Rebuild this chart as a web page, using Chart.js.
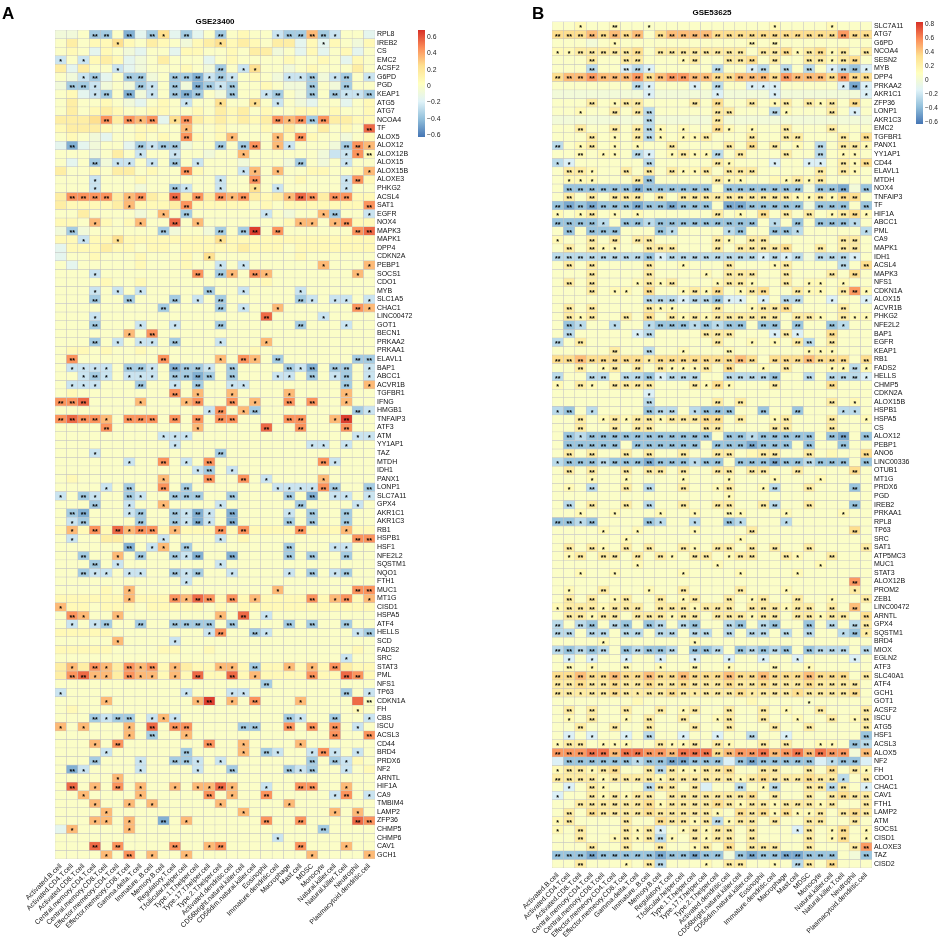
<!DOCTYPE html>
<html>
<head>
<meta charset="utf-8">
<script src="https://cdn.jsdelivr.net/npm/chart.js@4.4.1/dist/chart.umd.min.js"></script>
<style>
  html, body { margin: 0; padding: 0; background: #fff; }
  #wrap { position: relative; width: 941px; height: 941px; overflow: hidden; }
  canvas { position: absolute; top: 0; }
</style>
</head>
<body>
<div id="wrap">
  <canvas id="chartA" width="470" height="941" style="left:0px"></canvas>
  <canvas id="chartB" width="471" height="941" style="left:470px"></canvas>
</div>
<script>
// ---- data ----
const cellTypes = [
  'Activated.B.cell', 'Activated.CD4.T.cell', 'Activated.CD8.T.cell', 'Central.memory.CD4.T.cell',
  'Central.memory.CD8.T.cell', 'Effector.memeory.CD4.T.cell', 'Effector.memeory.CD8.T.cell',
  'Gamma.delta.T.cell', 'Immature..B.cell', 'Memory.B.cell', 'Regulatory.T.cell',
  'T.follicular.helper.cell', 'Type.1.T.helper.cell', 'Type.17.T.helper.cell', 'Type.2.T.helper.cell',
  'Activated.dendritic.cell', 'CD56bright.natural.killer.cell', 'CD56dim.natural.killer.cell',
  'Eosinophil', 'Immature.dendritic.cell', 'Macrophage', 'Mast.cell', 'MDSC', 'Monocyte',
  'Natural.killer.cell', 'Natural.killer.T.cell', 'Neutrophil', 'Plasmacytoid.dendritic.cell'
];

// one letter per cell = correlation level
const levelCodes  = 'ABCDEFGHIJKLMN';
const levelValues = [-0.55, -0.45, -0.35, -0.25, -0.15, -0.07, 0, 0.07, 0.15, 0.25, 0.35, 0.45, 0.55, 0.65];

const genesA = ['RPL8','IREB2','CS','EMC2','ACSF2','G6PD','PGD','KEAP1','ATG5','ATG7','NCOA4','TF','ALOX5',
  'ALOX12','ALOX12B','ALOX15','ALOX15B','ALOXE3','PHKG2','ACSL4','SAT1','EGFR','NOX4','MAPK3','MAPK1','DPP4',
  'CDKN2A','PEBP1','SOCS1','CDO1','MYB','SLC1A5','CHAC1','LINC00472','GOT1','BECN1','PRKAA2','PRKAA1','ELAVL1',
  'BAP1','ABCC1','ACVR1B','TGFBR1','IFNG','HMGB1','TNFAIP3','ATF3','ATM','YY1AP1','TAZ','MTDH','IDH1','PANX1',
  'LONP1','SLC7A11','GPX4','AKR1C1','AKR1C3','RB1','HSPB1','HSF1','NFE2L2','SQSTM1','NQO1','FTH1','MUC1','MT1G',
  'CISD1','HSPA5','ATF4','HELLS','SCD','FADS2','SRC','STAT3','PML','NFS1','TP63','CDKN1A','FH','CBS','ISCU',
  'ACSL3','CD44','BRD4','PRDX6','NF2','ARNTL','HIF1A','CA9','TMBIM4','LAMP2','ZFP36','CHMP5','CHMP6','CAV1','GCH1'];

const corrA = [
  'FFGCCGBECJECEGCGHGGDCCKCDGGE','GIGHHJHGIHGFHIJHIHGIIEHEHGFH','GHGEHGFEGGEHHGGHGIIFGEHEGHEG',
  'DGDHIHEFGIGGGEGHGGGGHGGHGEHG','IEIGGDEFGGGHGFCGDJGGFGHGGGIG','GFDCEGCCFGCCBDCDGHGFDDCFDCGD',
  'FCCDFGFCDGCFBCDCGGHGFFCGFCGG','GHEDCGBFDGCBCGFCGGDCGFCGCDDC','GIGGHGFEGHGDGGJGGJGDGFEGGEGH',
  'GIGHIHGGHHGGHGIHIGHGGHHGHGGH','IIIJLILKLEJLIHIHIHILKLCLIIHH','HIIIHGGHHGGKGGHGGGHGIGGIGHGM',
  'GHGFEGGHGHGLHGHKGGGKHLHGGFGH','EBEFGGECDCCFGGCGCLGKDGGGFCLK','GGGFGIGDGGDGGFGGKGGGGGGFDDLH',
  'GEGCFDDGDGCGDGGGFGGGFCGFGDGG','IGGHGIIGHGGLHGGGDKGKGGHHGGHK','GGGDGGGHGGGGGGDGGLGGGHGGGDLH',
  'GGGDGGGFGGCDGGDGGJGDGGGGGDGG','ILLLLIKLIHMILILKLIHIKMLILLHH','IHHHHIKHHHILHHHHHGHGHHHHHHHL',
  'GGIGGGGFGKGCGGGGGGDGFGGKCGGD','HHGKHGHKGGMGKGGGGGGGHKKGKLHH','FCFGGGGGGCFGGFCGCNGLGGGGGGLM',
  'HHDHHJHHHHHHHHJHHHHHHHHHHHHH','EHHHIHHGHHGHHHHHIHHHGHHHHHHH','EGGHGGGHGGGHGJGGGGGGGHGGGGGG',
  'GEGGGGGHGGGHGGDGDGGGGGGKGGGK','GGGDGGGGGGGGLGCKGLKGGGGGGGKG','GGGGHGGHGGGGGGGGGGHGGGGGGGGG',
  'GGGDGDGDGGGGGCGGDGGGGDGGGGGG','GGGCGGCGGGCGDGCGGGGGGCDGDDGD','GGGGGGGGGCGGGGCGDGGKGGGGGGLK',
  'GGGDGGGGGGGGGGGGGGMGGGGDGGGG','GGGCGGGDGGDGGGCGGGGGGCGGGDGG','GGGGGGKGLGGGGGGGGGGGGGGGGGGG',
  'GGGCGDGDDGCGGGDGGGKGGGGGGGGG','GHHGHGGHGGGGGGGGGHGGGGGGGGGG','GLGGGGGGGLGGGGKGLKGCGGGGGGCC',
  'GDDDDGCCDGBCCDGCGGGGCDBGCCGD','GGDCDGDDDGCCBCGCGGGDDGCGDCGD','GDDDGGGCGGDGCGGDDGGGGGGGGCGK',
  'GHGGGGGGGGLGKGGKGGGGKGGGGKGG','LLMGGGGKGGGKLGGLGKGGLGLGGKGG','GGGGGGGGGGGGGDLGKCGGGGGGGGCD',
  'LMLLKGLLLGLGLGLLGGGGLLGGKNGG','GGGGLGGGGGGGKGGGGGMGGLGGGLGG','GGGGGGGGGDDDGGGGGGGGGGGGGGDD',
  'GGGGGGGGGGDGGGGGGGGGGGDDGDGG','GGGDGGGGGGGGGGCGGGGGGGGGGGGG','GGGGGGDGGLGDGLGGGGGGGGGLDGGG',
  'GGGGGGGGGGGGDCGDGGGGGGGGGGGG','GHGGGGGGGKGGGLGGLGDGGGGKGGGG','GGGGDGCGGLGCGGGGGGGDDDDLCGGC',
  'DGCDGGCDGGCCCGGCGGGGCGBGDDGD','GGGCGGDGGKGGGGDGGGGGGCGGGGDG','GCBGGGDCGGCDBDGBGGGGDGCGGCGG',
  'GDCGGGGCGGCDBDGBGGGGCGCGGCGG','HKHLHMKLLHKHHHLHLHHHHLHHHKHH','GDGGIIGGGDGGGGDGHGGGGGGGGGLL',
  'GGGGGGBGDKGCGGGGGGGGCGGGDDGG','GGCGGKGCGGCDBGGBGGGGCGCGGCGG','GGGCGDGGGGGGGGDGGGGGGGGGGGGG',
  'GGCDDGDDGGCDCGGDGGGGDGCGDCGG','GGGGGGGGGGGDGGGGGGGGGGGGGGGG','GGGGHGKGGGGGGGGGGGGKGGGGGGLL',
  'HHHHHHKHHHLKMLHLHKHHHHLHKLHK','KHHGHHHGHHHHHGHGHHHHHHHHHHHH','GLKGGKGGGGGGGGKGMGDGGGGGGGGG',
  'GDGDCGGCGGCCCCGCGGGGCGCGGCGG','HHHHHGGGGGGGGDLGGCDGGGGGGGDC','GGGGGKGGGGDGGGGGGGGGGGGGGGGG',
  'HHHHHGGGGHHGGHGGGGGGGGGGGGHG','GGGGGGGGGGGGGGGGGGGGGGGGGDGG','IKILKILKLHKIHHKKHCHHKHKHLIHH',
  'ILMKKILKKHKHMHHMHKHHHHLHHMLH','GGGGGGGGGGGGGGGGGGCGGGGGGGGG','DGGGGGGGGGGDGGGDDGGGGGGGGCGD',
  'GGGGKGGGGGGGKNGKGLGGGKGGGGMG','GHGGGGGGGGGGGGGGGGGGGGGGGGHG','GGGCDCCGDKDGGGGGGGGGCDGGCGGD',
  'KGKGGGKGMGLLGGGGCCGGLGLGLGDG','GGGGGGKGCGGKGGGGGGGGGGGGLGGL','GGGKGLGGGGGGGLGGKGGGGKGGGGGG',
  'GGGGDGGGGGGCGGGGKGCDGGDLDGDG','GGGCGGGDGGCCDGDGGGGGGGCGCDHG','GBDGGGGDGGGGDGGCGGGGCDCGGDGH',
  'GGGGGKGGGGGGGGGGGGGGGGGGGGGG','GMGKGLGKGGKGKKMKGGDGGLLGGKGG','GGKGGGGKGGGGGLGKGGLGGGGGDLGD',
  'GGGKGGKGKGGGGGKGGGGGKGGGGGGG','GGGGKGGGGGGGGGGGKGGGGGGGKGKG','GGGKKGKGGBGKGGGGGGLGGLGGGGML',
  'EKGGGGKGGGGGGGGGGGGGGGGCGGGG','GGGGGGGGGGGGGGGGGGGDGGGGGGGG','GGGMGLGGGGLGGKLGGGGGGLGGGKGG',
  'GGGGKGLGKGGKGGGGGGGGGGKGGGGK'
];

// '1' = *, '2' = **, '.' = none ('' = no star in the row)
const starsA = [
  '...22.2.21.2..2....122221...','.....1........1........1....','',
  '1.1.........................','.....1........2.11..........','..12..22..222121....112.12.1',
  '.221...21.2.2212......2..2..','...12.2.1.222..2..12..2.2112','...........1..1..1.1........',
  '','....2.212.12.......21222....','...........1...............2',
  '...........2...1...1.2......','.2.....2122...2.22.11....221','.......1..1.....1........112',
  '...2.11.1.2.1........2...1..','...........2....11.1.......1','...1..........1..2.......12.',
  '...1......21..1..1.1.....1..','.2222.12..2.2.212...122.22..','......1....2...............2',
  '.........1.2......1....12..1','...1...1..2.1........11.12..','.2.......2....2.22.2......22',
  '..1..1........1.............','','.............1..............',
  '..............1.1......1...1','...1........2.21.21.......1.','',
  '...1.1.1.....2..1....1......','...2..2...2.1.2......21.11.1','.........2....2.1..1......21',
  '...1..............2....1....','...2...1..1...2......2...1..','......1.2...................',
  '...2.1.11.2...1...1.........','','.2.......2....1.21.2......22',
  '.1111.221.2221.2....212.22.1','..121.111.2222.2...11.2.12.1','.111...2..1.2..11........2.1',
  '..........2.1..1....1....1..','222....1...12..2.1..2.2..1..','.............12.12........21',
  '22221.222.2.2.22....22..12..','....2.......1.....2..2...2..','.........111..............11',
  '..........1...........11.1..','...1..........2.............','......1..2.1.2.........21...',
  '............12.1............','.........1...2..2.1....1....','....1.2..2.2.......111122..2',
  '1.21..21..222..2....2.2.11.1','...2..1..1....1......2....1.','.22...12..2121.2....1.2..2..',
  '.12....2..2121.2....2.2..2..','.1.2.2122.1...2.2....2...1..','.1.......1....1...........22',
  '......2.11.2........2...11..','..2..1.2..212..2....2.2..2..','...2.1........1.............',
  '..211.11..212..1....1.2.12..','...........1................','......1............1......22',
  '......1...2122.2.1....2.12.1','1...........................','.21..1........1.2.1.........',
  '.1.12..2..2222.2....2.2..2..','.............12..21.......12','.....1....1.................',
  '','.........................1..','.1.21.212.1...11.2..1.1.2...',
  '.2211.211.1.2..2.1....2..22.','..................2.........','1..........1...11........2.1',
  '....1.......12.1.2...1.....2.','..........................1.','...2122.111.........21..2..1',
  '1.1...1.2.22....22..2.2.2.1.','......1.2..1............2..2','...1.2.......2..1....1......',
  '....1......2....1.21..121.1.','...2...1..221.1.......2.21..','.21....1....1..2....212..1..',
  '.....1......................','.2.1.2.1..1.1121..1..22..1..','..1....1.....2.1..2.....12.1',
  '...1..1.1.....1.....1.......','....1...........1.......1.1.','...11.1..2.1......2..2....22',
  '.1....1................2....','...................1........','...2.2....2..12......2...1..',
  '....1.2.1..1..........1....1'
];

const genesB = ['SLC7A11','ATG7','G6PD','NCOA4','SESN2','MYB','DPP4','PRKAA2','AKR1C1','ZFP36','LONP1','AKR1C3',
  'EMC2','TGFBR1','PANX1','YY1AP1','CD44','ELAVL1','MTDH','NOX4','TNFAIP3','TF','HIF1A','ABCC1','PML','CA9',
  'MAPK1','IDH1','ACSL4','MAPK3','NFS1','CDKN1A','ALOX15','ACVR1B','PHKG2','NFE2L2','BAP1','EGFR','KEAP1','RB1',
  'FADS2','HELLS','CHMP5','CDKN2A','ALOX15B','HSPB1','HSPA5','CS','ALOX12','PEBP1','ANO6','LINC00336','OTUB1',
  'MT1G','PRDX6','PGD','IREB2','PRKAA1','RPL8','TP63','SRC','SAT1','ATP5MC3','MUC1','STAT3','ALOX12B','PROM2',
  'ZEB1','LINC00472','ARNTL','GPX4','SQSTM1','BRD4','MIOX','EGLN2','ATF3','SLC40A1','ATF4','GCH1','GOT1','ACSF2',
  'ISCU','ATG5','HSF1','ACSL3','ALOX5','NF2','FH','CDO1','CHAC1','CAV1','FTH1','LAMP2','ATM','SOCS1','CISD1',
  'ALOXE3','TAZ','CISD2'];

const corrB = [
  'HHIHHIHHHHHHHHHHHHHIHHHHIHHH','KKKLKLKLHKLLLLKKKKKKKKKKKMKK','HHHGHIHHHHHHHHHHHIHIHHHHHHHH',
  'IIJJJJJKHJJJJJJJJHJJKIJKIJHJ','HHHJHHJJHHHIJHHJJKHJHHJJIJKH','HHHDHHEDEHHHHHDHHEDHDHDHEDCE',
  'KLLMLLLMKLMMLLKKLLLKMLLLKMKK','HHHHHHHDEHHHEHDHHEEEHHHHHEBE','GGGGGGGGEGGGGGEGGGGEGGGGGGGE',
  'HHHJHIJJHHHHJHKHHJHIJHJIJHKH','HHIHHJHJDHHHHHJJHHHDIHHHJHEH','GGGGGGGGDGGGGGJGGGGGGGGGGGGG',
  'HHJHHJHJDIHIHHKIHIHHJHHHJHHH','HHHJHIHJDIHIIJHHHJHHJJHHHJHK','DHIJHIHIHHJHHHHJHKHJHIHDHJJI',
  'HHIHIIHDEHIJIIDHJHHHJHHDHIIH','DEHHHHHHDHHHHHJIHHHEHHEEHJIK','HJJIHHJHJHJIIJHJJJHHHHHJHJIH',
  'HIIIHHHJCHHHHHJIIHHIIJIJHHHH','HCCCCCCBCCCCCCHCCCCCCCGCCBGC','HJHJHJJJHJHJJJJJJJJJJIIJIKKH',
  'CBCBCCCBCCBCCCHBBCCCCCGCCCHC','IHIJHIHIHHHHHHJHIHKHJHJHIJKI','CCCCDHCCDCCCCCCCCCHDHCHCCCDH',
  'HCHCCCHHHCDHHHHDCHHCCDHHHHHD','IHHJHJHJJHHHHHJIHJJHHHHHHJJH','HJHJIIHHJJJHHHJHJJJJKHHJHJJH',
  'DDDDDDDDCEDDDDDDDDEDEDGDDDEH','HJHJHHHHJHHIHHHJHHHIJHHHHDHK','HHHJHHHHJHHHHIHJJJHHJHHHJHKH',
  'HJHJHHHIJIJHHHIJJIHHJHIIHIHH','HHHJHIIHKHHIJIKHIJKHHJIIHJMI','HHHHHHHHDDDEDDCEEHEHDDHHEHHE',
  'HJHJHHHHJIIHHHJHHIJJKHHHHJHH','HJIJHHJHKHJIJIJJJJJJHJJIHJII','HCDHHDHHDCCCDCDCCHCCHCHHCDHH',
  'HDHHHHHEDHHHHJJJHHHEJEHHKHHH','DHJHHHHHHHHHHHJHHIHIHJDHJHHH','HHHHHJHHDHHIHHHIHHHHHHIIIHHH',
  'KKLKKKKKJKKKKKKKLKHKKKLKKKHK','HHJHIJHJHJIIIJHKHHIHJHHHIIDI','DHHDDHDDCEDDDHHDDDDCHHDHDDDE',
  'IHJIHJJJJHHHJIKIHHHJHHHHKHHH','HHHHHHHHEHHHHHHHHHHHHHHHHHHH','HHHHHHHHDHHHHHJHJHHHHHHHJHIH',
  'DCHDHHHHCDDHDCCCHHCHHCHHHDDH','HHJHIJIJJIJJJKKHJHHIJHHHJHHI','HHJHHJHJJHHHHJJHHHHJJHHHJHHH',
  'HCDCCCCCCCCCCCHCCDCCCCCHCBHC','HCCCCCHCCCCCCHCCCBCCCHCHHCHH','HJHJHHJHJHHJHHJJHIJJHHJHIHHK',
  'DCCCDCCCBCCCDCCHCCCBCCDCCCHC','HJHJHHJHJJHJHHJJHJJHHJHHHHKH','HHHIHHIHHHHIHHHIHHHIHHHIHHHH',
  'HIHDHHJHDHHJHHIJHHIDHHJHHHCH','HHHHHHHHHHHHHHHIHHHHHHHHHHHH','HDHJHHJHDHHJHHJJHHJDHHJHHHCH',
  'HHIHHIHHHIHHIHHIIHHHIHHHHIHH','CCDCHHHHCDHHDHHCDHHHDHHHHHHH','HHHHIHHIHHHHIHHHHJHHHHHHHHKH',
  'HHHHHHIHHHHHHHHHIHHHHHHHHHHH','HJHJIHJHJHHJIHJJHJHJHHJHHHHJ','HIJHJJHJHJIHJJHIJJHHJIHHJHHH',
  'HHHHHHHIHHHHHHIHHHHHHHHIHHHH','HHIHHIHHHHHIHHHHIHHHHIHHHHHH','HHHHHHHHHHHHHHHHHHHHHHHHHHMH',
  'HIHHJHHHIHHJHHHHJHHHIHHHHHJH','HJHJHIJHHJHIJHHJHIJHHJHHIHHJ','IJJJIJJJHJJJIJJJHJJJIJJHJHLH',
  'HJJIJJHJJJIJJHJJJIJJHJJIJJHK','DHDCHDCHCDHDCHHDCHDCHHCHDHDJ','DDHDDHDDHDDHDDHDHDDHDHDHHDCJ',
  'HHHHIHHHHHHHIHHHHHHHHHHHHHHH','DCDCDHCDCCDHCCDHCDCDCHCDDDHD','HEHEHHEHHEHHEHHEHHEHHEHHHHEH',
  'HIHIHHIHHIHHIHHIHHHIHHIHHHHH','KKLKKLKKLKKLKKKLKKLKKKLKKKHJ','JJKJJKJJKJJKJJJKJJKJJJKJJJJH',
  'JJJJJKJJJJKJJJJJKJJJJKJJJJKH','HHHHHHHIHHHHHHHHHIHHHHHHHHHH','HJHJHHJHHJHIJHHJHHJHIHHJHHHJ',
  'HIHJHHIHJHHJHHIJHHJHHIHHJHIJ','HHJHHJHHJHHHJHHJHHHJHHJHHHHJ','HEHEHHEHDHHEHHEHHDHHEHHHHHHC',
  'IJJHIIIHHJIIJHJIHHJHJHHIIHCD','MMMNNLNNMMLNNNKLMMNLMNLNMMGL','ECCCCCCDCCBBCCCECBCCCCCEDCCE',
  'IJJIJKHHJDJIIJJKHHJJHHJHKHJI','JJJJIJJJJIJJJJJJIJKJJJKJJDHJ','HEHJIHHHDJJHJEHHDHIDHHJJDJHE',
  'EHHJIJIJJHJJJJJJJKHJHHJHJKJJ','HHJJJJJJKIJJJJKJIJJIJJJIJHHJ','HJHKJJJJKJJJJJIHKJKIKIIJHJKJ',
  'IJHHHHJHHKJJIJDIJJHJHHJJHHJH','IHJHHHJIJEHIJIJJHJHHHEJHIKHI','HHJHHIJIJDIHJIJJHJHHHHJHIKHI',
  'HHHJHHJHHJHHIJHKHJJJHHJHHHJM','CCCBCCCCCBCCBCCGCBCCBBCCCHGC','HHJHHHIHJDHHHIHJJHHIHDJHKHHH'
];

const starsB = [
  '..1..2..1..........1....1...','22222222.2222222222222222222','.....1...........2.2........',
  '11222222.22222222.22212212.2','...2..22...12..222.2..22122.','...2..221.....2..12.2.2.1221',
  '2222222222222222222222222222','.......21...1.2..111.....121','........1.....1....1.......1',
  '...2.122....2.2..2.12.212.2.','..1..2.22.....22...21...2.1.','........2.....2.............',
  '..2..2.221.1..21.1..2...2...','...2.1.221.112...2..22...2.2','2.12.1.1..2....2.2.2.1.2.221',
  '..2.11.21.12112.2...2..2.11.','11......2.....21...1..11.212','.221..2.2.2112.222.....2.21.',
  '.111...22.....211...1212....','.2222222222222.2222222.222.2','.2.2.222.2.2222222222112122.',
  '22222222222222.2222222.222.2','1.12.1.1......2.1.2.2.2.1221','22221.221222222222.1.2.2221.',
  '.2.222...21....12..221.....1','1..2.2.22.....21.22......22.','.2.211..222...2.22222..2.22.',
  '2222222221222222221212.2221.','.2.2....2..1...2...12....2.2','...2....2....1.222..2...2.2.',
  '.2.2...1212...1221..2.11.1..','...2.11.2..1212.122..211.221','........222122211.1.22..1..1',
  '.2.2....211...2..1222....2..','.212..2.2.2121222222.221.211','.21..1..122212122.22.2..21..',
  '.2.....12....222...121..2...','2.2...........2..1.1.22.2...','.....2..2..1...2......111...',
  '222222221222222222.2222222.2','..2.12.2.21112.2..1.2...1121','2..22.2221222..22222..2.2221',
  '1.21.2222...2121...2....2...','........1...................','........2.....2.2.......2.1.',
  '12.1....222.1222..2..2...11.','..2.12122122222.2..12...2..1','..2..2.22....22....22...2...',
  '.2122222222222.22122222.22.2','.22222.222222.2222222.2..2..','.2.2..2.2..2..22..22..2....2',
  '122222222222122.2222222222.2','.2.2..2.22.2..22.22..2....2.','...1..1....1...1...1...1....',
  '.1.2..2.2..2..12..12..2...2.','...............1............','.2.2..2.2..2..22..22..2...2.',
  '..1..1...1..1..21...1....1..','2212....21..1..21...1.......','....1..1....1....2........2.',
  '......1.........1...........','.2.21.2.2..21.22.2.2..2....2','.12.22.2.21.22.122..21..2...',
  '.......1......1........1....','..1..1.....1....1....1......','..........................2.',
  '.1..2...1..2....2...1.....1.','.2.2.12..2.12..2.12..2..1..2','12221222.2221222.222122.2.2.',
  '.22122.222122.222122.22122.2','2.22.22.22.22..22.22..2.2.22','22.22.22.22.22.2.22.2.2..121',
  '....1.......1...............','22222.22222.222.22222.2222.2','.1.1..1..1..1..1..1..1....1.',
  '.2.1..2..1..2..1...2..1.....','22222222222222222222222222.2','222222222222222222222222222.',
  '221222212222122221222122222.','......................1.....','.2.2..2..2.12..2..2.1..2...2',
  '.1.2..1.2..2..12..2..1..2.12','..2..2..2...2..2...2..2....2','.1.1..1.2..1..1..2..1......2',
  '122.111..2112.21..2.2..11.22','22222222222222222222222222.2','.22222212222222.2222222.122.',
  '122122..22211222..22..2.2.21','22221222212222221222222221.2','.1.21...222.2...2.12..2222.1',
  '1..212122.22222222.2..2.2222','..22222221222222122122212..2','.2.222222222221.22212112.222',
  '12....2..222122122.2..22..2.','1.2...2121.12122.2...12.12.1','..2..121221.2122.2....2.12.1',
  '...2..2..2..12.2.222..2...22','222222222222222.222222222..2','..2...1.22...1.22..1.22.2...'
];

const ticksA = [0.6, 0.4, 0.2, 0, -0.2, -0.4, -0.6];
const ticksB = [0.8, 0.6, 0.4, 0.2, 0, -0.2, -0.4, -0.6];
const rangeA = [-0.625, 0.686];
const rangeB = [-0.62, 0.83];

// ---- colours (pheatmap default: rev RdYlBu, 7 colours) ----
const palette = ['#4575B4', '#91BFDB', '#E0F3F8', '#FFFFBF', '#FEE090', '#FC8D59', '#D73027'];
const FONT = '"Liberation Sans", Arial, Helvetica, sans-serif';

function hexToRgb(h) {
  return [parseInt(h.slice(1, 3), 16), parseInt(h.slice(3, 5), 16), parseInt(h.slice(5, 7), 16)];
}
const paletteRgb = palette.map(hexToRgb);

function colourFor(v, range) {
  let t = (v - range[0]) / (range[1] - range[0]);
  t = Math.max(0, Math.min(1, t));
  const pos = t * (paletteRgb.length - 1);
  const i = Math.min(Math.floor(pos), paletteRgb.length - 2);
  const f = pos - i;
  const a = paletteRgb[i], b = paletteRgb[i + 1];
  const c = a.map((x, k) => Math.round(x + (b[k] - x) * f));
  return `rgb(${c[0]},${c[1]},${c[2]})`;
}

function codeToValue(ch) {
  const k = levelCodes.indexOf(ch);
  return k < 0 ? null : levelValues[k];
}

function fmtTick(v) {
  if (v === 0) return '0';
  return (v < 0 ? '\u2212' : '') + Math.abs(v).toFixed(1);
}

// ---- one heatmap panel ----
function makePanel(canvasId, cfg) {
  const { genes, corr, stars, range, ticks, title, letter, box } = cfg;

  // one floating-bar dataset per gene row
  const datasets = genes.map((g, i) => {
    const codes = corr[i] || '';
    return {
      label: g,
      data: cellTypes.map(() => [i, i + 1]),
      backgroundColor: cellTypes.map((c, j) => {
        const v = codeToValue(codes[j]);
        return v === null ? 'rgba(0,0,0,0)' : colourFor(v, range);
      }),
      borderColor: '#c2c2c2',
      borderWidth: 0.5,
      borderSkipped: false,
      grouped: false,
      barPercentage: 1,
      categoryPercentage: 1
    };
  });

  const decor = {
    id: 'decor',
    afterDatasetsDraw(chart) {
      const ctx = chart.ctx;
      const xs = chart.scales.x, ys = chart.scales.y;
      ctx.save();
      ctx.fillStyle = '#000';
      ctx.font = `bold 7px ${FONT}`;
      ctx.textAlign = 'center';
      ctx.textBaseline = 'alphabetic';
      stars.forEach((row, i) => {
        for (let j = 0; j < row.length; j++) {
          const s = row[j];
          if (s !== '1' && s !== '2') continue;
          const x = xs.getPixelForValue(j);
          const y = ys.getPixelForValue(i + 0.5);
          ctx.fillText(s === '2' ? '**' : '*', x, y + 4.3);
        }
      });
      ctx.restore();
    },
    afterDraw(chart) {
      const ctx = chart.ctx;
      const area = chart.chartArea;
      ctx.save();
      // title
      ctx.fillStyle = '#000';
      ctx.font = `bold 8px ${FONT}`;
      ctx.textAlign = 'center';
      ctx.textBaseline = 'middle';
      ctx.fillText(title, (area.left + area.right) / 2, area.top - box.titleGap);
      // panel letter
      ctx.font = `bold 17px ${FONT}`;
      ctx.textAlign = 'left';
      ctx.textBaseline = 'alphabetic';
      ctx.fillText(letter, box.letterX, 19);
      // colour bar
      const g = ctx.createLinearGradient(0, box.barBottom, 0, box.barTop);
      palette.forEach((c, k) => g.addColorStop(k / (palette.length - 1), c));
      ctx.fillStyle = g;
      ctx.fillRect(box.barX, box.barTop, 7, box.barBottom - box.barTop);
      ctx.fillStyle = '#222';
      ctx.font = `${box.barFont}px ${FONT}`;
      ctx.textAlign = 'left';
      ctx.textBaseline = 'middle';
      ticks.forEach(v => {
        const y = box.barBottom - (v - range[0]) / (range[1] - range[0]) * (box.barBottom - box.barTop);
        ctx.fillText(fmtTick(v), box.barX + 9, y);
      });
      ctx.restore();
    }
  };

  return new Chart(document.getElementById(canvasId), {
    type: 'bar',
    data: { labels: cellTypes, datasets },
    options: {
      responsive: false,
      animation: false,
      events: [],
      layout: { padding: { left: box.left, top: box.top, right: box.right, bottom: 0 } },
      plugins: { legend: { display: false }, tooltip: { enabled: false }, title: { display: false } },
      scales: {
        x: {
          type: 'category',
          grid: { display: false, drawTicks: false },
          border: { display: false },
          ticks: {
            autoSkip: false, maxRotation: 45, minRotation: 45, padding: 3,
            color: '#111', font: { size: 7, family: FONT }
          },
          afterFit: s => { s.height = box.xHeight; }
        },
        y: {
          type: 'linear',
          position: 'right',
          reverse: true,
          min: 0,
          max: genes.length,
          grid: { display: false, drawTicks: false },
          border: { display: false },
          afterBuildTicks: s => { s.ticks = genes.map((g, i) => ({ value: i + 0.5 })); },
          ticks: {
            autoSkip: false, padding: 2, color: '#111', font: { size: 7, family: FONT },
            callback: v => genes[Math.floor(v)]
          },
          afterFit: s => { s.width = 45; }
        }
      }
    },
    plugins: [decor]
  });
}

makePanel('chartA', {
  genes: genesA, corr: corrA, stars: starsA, range: rangeA, ticks: ticksA,
  title: 'GSE23400', letter: 'A',
  box: { left: 55, top: 30, right: 50, xHeight: 82, titleGap: 8.5, letterX: 2,
         barX: 418, barTop: 30, barBottom: 137, barFont: 6.8 }
});

makePanel('chartB', {
  genes: genesB, corr: corrB, stars: starsB, range: rangeB, ticks: ticksB,
  title: 'GSE53625', letter: 'B',
  box: { left: 82, top: 21.5, right: 24, xHeight: 73, titleGap: 8.5, letterX: 62,
         barX: 446, barTop: 22, barBottom: 124, barFont: 6.5 }
});
</script>
</body>
</html>
